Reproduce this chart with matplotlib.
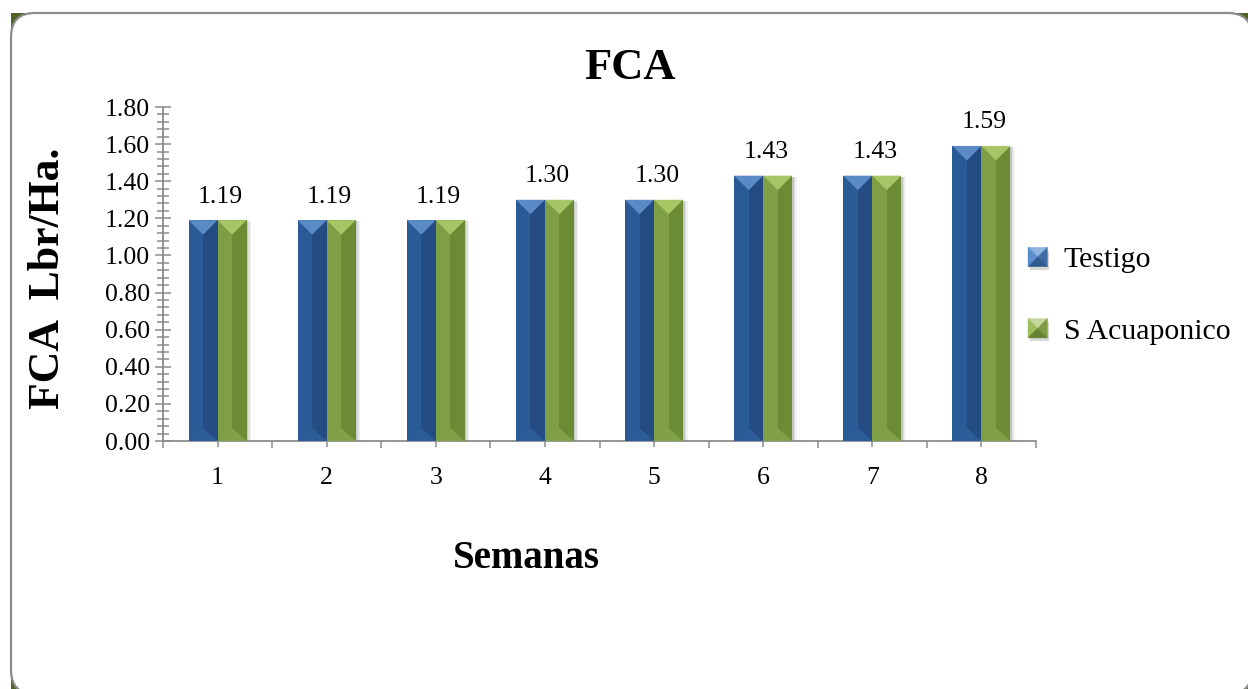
import matplotlib
matplotlib.use("Agg")
import matplotlib.pyplot as plt
import numpy as np
from matplotlib.patches import Polygon, Rectangle, FancyBboxPatch, Patch
from matplotlib.legend_handler import HandlerBase
from matplotlib.transforms import IdentityTransform
from matplotlib.ticker import MultipleLocator, FormatStrFormatter

# ---- data ----
semanas = ["1", "2", "3", "4", "5", "6", "7", "8"]
testigo = [1.19, 1.19, 1.19, 1.30, 1.30, 1.43, 1.43, 1.59]
acuaponico = [1.19, 1.19, 1.19, 1.30, 1.30, 1.43, 1.43, 1.59]
series_names = ["Testigo", "S Acuaponico"]

plt.rcParams["font.family"] = ["Liberation Serif", "DejaVu Serif"]

# bevel palettes: body-left, body-right, top, bottom
BLUE = dict(left="#2B5B96", right="#244C82", top="#5B8BC7", bottom="#2D5D98")
GREEN = dict(left="#7E9F45", right="#6B8B35", top="#A6C564", bottom="#80A147")
LEG_BLUE = dict(top="#8DB4E2", left="#5B8CCB", right="#3C6BA6", bottom="#2F5A90")
LEG_GREEN = dict(top="#C4D89C", left="#9DBD5C", right="#7E9C40", bottom="#66812F")
AXIS_GRAY = "#8C8C8C"
TICK_FS = 18.5

W, H, DPI = 1248, 689, 100
fig = plt.figure(figsize=(W / DPI, H / DPI), dpi=DPI)
fig.patch.set_facecolor("white")

# rounded chart frame with dark corners
fig.add_artist(Rectangle((11, -5), 1241, 681, transform=IdentityTransform(),
                         facecolor="#4F6228", edgecolor="none", zorder=-3))
fig.add_artist(FancyBboxPatch((11, -5), 1241, 681,
                              boxstyle="round,pad=0,rounding_size=24",
                              transform=IdentityTransform(), facecolor="white",
                              edgecolor=AXIS_GRAY, linewidth=1.6, zorder=-2))

ax = fig.add_axes([163 / W, 1 - 441 / H, (1036 - 163) / W, (441 - 107) / H])
ax.set_facecolor("none")

x = np.arange(len(semanas))
bw = 0.266
bars1 = ax.bar(x - bw / 2, testigo, bw, color=BLUE["left"], linewidth=0, zorder=3)
bars2 = ax.bar(x + bw / 2, acuaponico, bw, color=GREEN["left"], linewidth=0, zorder=3)

ax.set_xlim(-0.5, len(semanas) - 0.5)
ax.set_ylim(0, 1.8)

# pixel scale of data units (for the bevel geometry)
p0 = ax.transData.transform((0, 0))
p1 = ax.transData.transform((1, 1))
sx, sy = p1[0] - p0[0], p1[1] - p0[1]


def bevel(rect, pal, shadow=False):
    x0, w, h = rect.get_x(), rect.get_width(), rect.get_height()
    x1, xc = x0 + w, x0 + w / 2
    d = (w * sx / 2) / sy
    db = d * 0.9
    if shadow:
        for k, a in ((1.5, 0.35), (3.0, 0.22), (4.5, 0.12)):
            off = k / sx
            ax.add_patch(Rectangle((x0 + off, 0), w, h - 1.0 / sy, facecolor="#9a9a9a",
                                   alpha=a, linewidth=0, zorder=2))
    ax.add_patch(Rectangle((xc, 0), w / 2, h, facecolor=pal["right"], linewidth=0, zorder=4))
    ax.add_patch(Polygon([(x0, 0), (x1, 0), (xc, db)], closed=True,
                         facecolor=pal["bottom"], linewidth=0, zorder=4))
    ax.add_patch(Polygon([(x0, h), (x1, h), (xc, h - d)], closed=True,
                         facecolor=pal["top"], linewidth=0, zorder=5))


for r in bars1:
    bevel(r, BLUE)
for r in bars2:
    bevel(r, GREEN, shadow=True)

# value labels over each week
for xi, a, b in zip(x, testigo, acuaponico):
    ax.annotate(f"{a:.2f}", xy=(xi, max(a, b)), xytext=(2, 17),
                textcoords="offset points", ha="center", va="center",
                fontsize=TICK_FS, color="black", zorder=6)

# axes styling
for s in ("top", "right"):
    ax.spines[s].set_visible(False)
for s in ("left", "bottom"):
    ax.spines[s].set_color(AXIS_GRAY)
    ax.spines[s].set_linewidth(1.3)

ax.set_xticks(x)
ax.set_xticklabels(semanas)
ax.set_xticks(np.arange(-0.5, len(semanas), 1), minor=True)
ax.tick_params(axis="x", which="major", direction="inout", length=9, width=1.1,
               color=AXIS_GRAY, pad=14, labelsize=TICK_FS)
ax.tick_params(axis="x", which="minor", direction="out", length=5, width=1.1,
               color=AXIS_GRAY)

ax.yaxis.set_major_locator(MultipleLocator(0.2))
ax.yaxis.set_minor_locator(MultipleLocator(0.04))
ax.yaxis.set_major_formatter(FormatStrFormatter("%.2f"))
ax.tick_params(axis="y", which="major", direction="inout", length=11, width=1.1,
               color=AXIS_GRAY, pad=4, labelsize=TICK_FS)
ax.tick_params(axis="y", which="minor", direction="inout", length=9, width=1.1,
               color=AXIS_GRAY)

ax.set_ylabel("FCA  Lbr/Ha.", fontsize=31.5, fontweight="bold", va="center")
ax.yaxis.set_label_coords((48 - 163) / 873, (441 - 278) / 334)
ax.set_xlabel("Semanas", fontsize=28, fontweight="bold", va="center")
ax.xaxis.set_label_coords((526 - 163) / 873, -(558 - 441) / 334)

fig.text(630 / W, 1 - 68 / H, "FCA", ha="center", va="center",
         fontsize=32, fontweight="bold")


# legend with pyramid-style swatches
class BevelSquare(HandlerBase):
    def __init__(self, pal):
        super().__init__()
        self.pal = pal

    def create_artists(self, legend, orig_handle, xdescent, ydescent,
                       width, height, fontsize, trans):
        s = min(width, height)
        cx = -xdescent + width / 2
        cy = -ydescent + height / 2
        l, r, b, t = cx - s / 2, cx + s / 2, cy - s / 2, cy + s / 2
        c = (cx, cy)
        sh = Polygon([(l + 1.5, b - 2.5), (r + 1.5, b - 2.5), (r + 1.5, t - 2.5), (l + 1.5, t - 2.5)],
                     closed=True, facecolor="#b0b0b0", alpha=0.5, linewidth=0)
        arts = [sh]
        tris = [([(l, t), (r, t), c], "top"), ([(l, b), (l, t), c], "left"),
                ([(r, b), (r, t), c], "right"), ([(l, b), (r, b), c], "bottom")]
        for pts, key in tris:
            arts.append(Polygon(pts, closed=True, facecolor=self.pal[key],
                                edgecolor=self.pal[key], linewidth=0.3))
        for a in arts:
            a.set_transform(trans)
        return arts


h1 = Patch(facecolor=LEG_BLUE["left"])
h2 = Patch(facecolor=LEG_GREEN["left"])
ax.legend([h1, h2], series_names,
          handler_map={h1: BevelSquare(LEG_BLUE), h2: BevelSquare(LEG_GREEN)},
          loc="upper left", bbox_to_anchor=(1028 / W, 1 - 247 / H),
          bbox_transform=fig.transFigure, frameon=False, fontsize=21.5,
          handlelength=0.65, handleheight=0.65, handletextpad=0.55,
          labelspacing=1.5, borderpad=0, borderaxespad=0)

fig.savefig("out.png", dpi=DPI, facecolor="white")
